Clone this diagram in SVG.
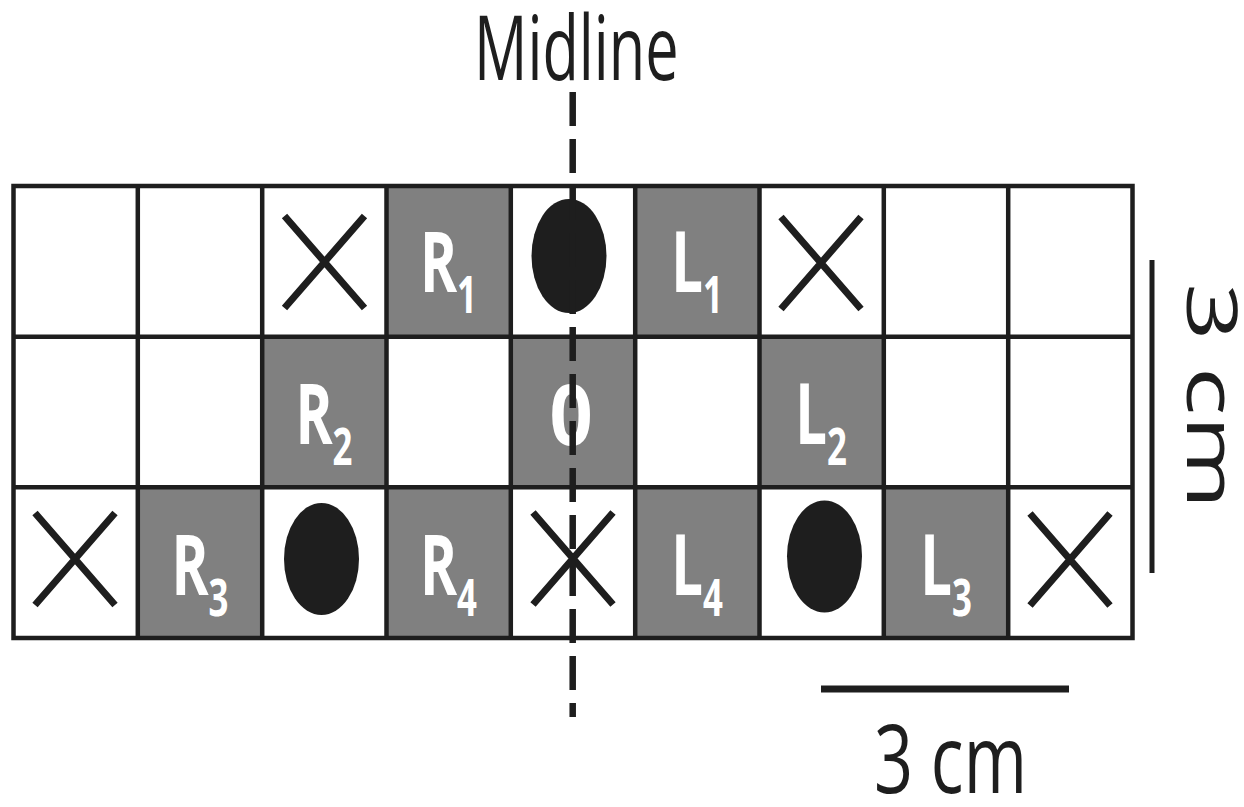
<svg xmlns="http://www.w3.org/2000/svg" width="1244" height="807" viewBox="0 0 1244 807">
  <style>
    .cell-grey { fill: #808080; }
    .grid { fill: none; stroke: #1e1e1e; stroke-width: 4.5; }
    .cross { stroke: #1e1e1e; stroke-width: 7; stroke-linecap: butt; }
    .dot { fill: #1e1e1e; }
    .lbl { font-family: "Open Sans", "Liberation Sans", sans-serif; font-weight: 700; font-size: 84px; fill: #ffffff; text-anchor: middle; }
    .sub { font-size: 52px; }
    .note { font-family: "Open Sans", "Liberation Sans", sans-serif; font-weight: 400; fill: #1e1e1e; }
    .bar { stroke: #1e1e1e; fill: none; }
    .midline { stroke: #1e1e1e; stroke-width: 6.5; stroke-dasharray: 34 13; fill: none; }
  </style>
  <defs>
    <path id="x-mark" d="M -40 -46 L 40 46 M 40 -46 L -40 46"/>
  </defs>

  <rect width="1244" height="807" fill="#ffffff"/>

  <!-- shaded cells: column width 124.33, row height 150.67 -->
  <g id="shaded-cells">
    <rect class="cell-grey" x="386.5" y="186" width="124.3" height="150.7"/>
    <rect class="cell-grey" x="635.2" y="186" width="124.3" height="150.7"/>
    <rect class="cell-grey" x="262.2" y="336.7" width="124.3" height="150.7"/>
    <rect class="cell-grey" x="510.8" y="336.7" width="124.3" height="150.7"/>
    <rect class="cell-grey" x="759.5" y="336.7" width="124.3" height="150.7"/>
    <rect class="cell-grey" x="137.8" y="487.3" width="124.3" height="150.7"/>
    <rect class="cell-grey" x="386.5" y="487.3" width="124.3" height="150.7"/>
    <rect class="cell-grey" x="635.2" y="487.3" width="124.3" height="150.7"/>
    <rect class="cell-grey" x="883.8" y="487.3" width="124.3" height="150.7"/>
  </g>

  <!-- grid lines -->
  <g id="grid" class="grid">
    <rect x="13.5" y="186" width="1119" height="452"/>
    <path d="M 13.5 336.7 H 1132.5 M 13.5 487.3 H 1132.5"/>
    <path d="M 137.8 186 V 638 M 262.2 186 V 638 M 386.5 186 V 638 M 510.8 186 V 638 M 635.2 186 V 638 M 759.5 186 V 638 M 883.8 186 V 638 M 1008.2 186 V 638"/>
  </g>

  <!-- crosses -->
  <g id="crosses" class="cross">
    <use href="#x-mark" transform="translate(324.5 262)"/>
    <use href="#x-mark" transform="translate(821 263)"/>
    <use href="#x-mark" transform="translate(75 559)"/>
    <use href="#x-mark" transform="translate(573 558.5)"/>
    <use href="#x-mark" transform="translate(1070 559.5)"/>
  </g>

  <!-- filled dots -->
  <g id="dots" class="dot">
    <ellipse cx="569" cy="256" rx="37.5" ry="57"/>
    <ellipse cx="321.5" cy="559" rx="37.5" ry="56"/>
    <ellipse cx="824.5" cy="556.5" rx="37.5" ry="56"/>
  </g>

  <!-- cell labels -->
  <g id="labels">
    <text class="lbl" transform="translate(448.5 292) scale(0.67 1)">R<tspan class="sub" dy="21">1</tspan></text>
    <text class="lbl" transform="translate(697 292) scale(0.67 1)">L<tspan class="sub" dy="21">1</tspan></text>
    <text class="lbl" transform="translate(324 444) scale(0.67 1)">R<tspan class="sub" dy="21">2</tspan></text>
    <text class="lbl" transform="translate(571 445) scale(0.9 1)">0</text>
    <text class="lbl" transform="translate(821 444) scale(0.67 1)">L<tspan class="sub" dy="21">2</tspan></text>
    <text class="lbl" transform="translate(200 595) scale(0.67 1)">R<tspan class="sub" dy="21">3</tspan></text>
    <text class="lbl" transform="translate(448.5 595) scale(0.67 1)">R<tspan class="sub" dy="21">4</tspan></text>
    <text class="lbl" transform="translate(697 595) scale(0.67 1)">L<tspan class="sub" dy="21">4</tspan></text>
    <text class="lbl" transform="translate(946 595) scale(0.67 1)">L<tspan class="sub" dy="21">3</tspan></text>
  </g>

  <!-- midline -->
  <g id="midline">
    <text class="note" font-size="90" transform="translate(474 80) scale(0.66 1)">Midline</text>
    <path class="midline" d="M 572.7 92 V 717"/>
  </g>

  <!-- scale bars -->
  <g id="scale-horizontal">
    <path class="bar" stroke-width="7" d="M 821 689 H 1069"/>
    <text class="note" font-size="95" transform="translate(874 793) scale(0.72 1)">3 cm</text>
  </g>
  <g id="scale-vertical">
    <path class="bar" stroke-width="5" d="M 1152 260 V 573"/>
    <text class="note" font-size="95" transform="translate(1187 283) scale(0.74 1.065) rotate(90)">3 cm</text>
  </g>
</svg>
